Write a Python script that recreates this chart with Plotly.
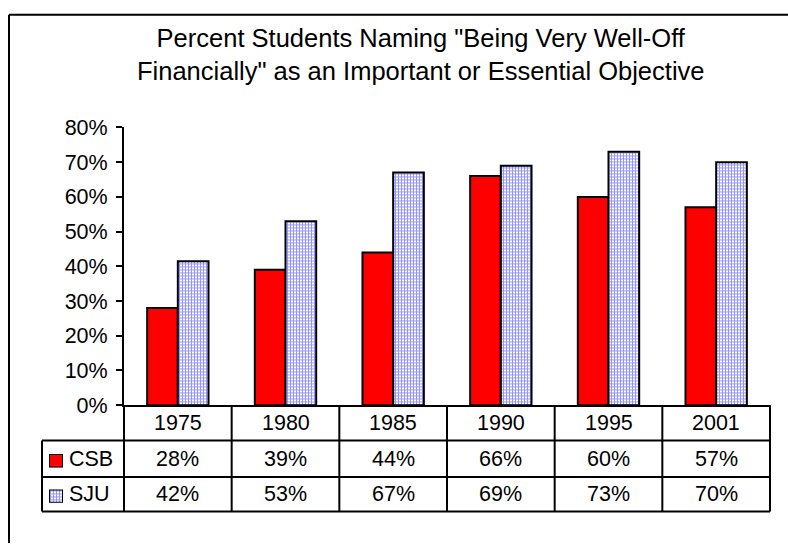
import plotly.graph_objects as go

# ---- data ----
years = ["1975", "1980", "1985", "1990", "1995", "2001"]
csb = [28, 39, 44, 66, 60, 57]
sju = [41.5, 53, 67, 69, 73, 70]
series_names = ["CSB", "SJU"]
y_tick_vals = [0, 10, 20, 30, 40, 50, 60, 70, 80]
title_text = 'Percent Students Naming "Being Very Well-Off<br>Financially" as an Important or Essential Objective'

# ---- geometry (pixels) ----
W, H = 788, 556
def px(x):
    return x / W
def py(y):
    return (H - y) / H

PLOT_X0, PLOT_X1 = 124, 770
PLOT_Y0, PLOT_Y1 = 412, 121.7
ROWS = [412, 449, 487, 523]
LEG_LEFT = 42
FONT = "Liberation Sans, Arial, sans-serif"
FS = 21.5

red_marker = dict(color="#ff0000", line=dict(color="black", width=2))
blue_marker = dict(
    color="white",
    pattern=dict(shape="+", fgcolor="#2828ff", bgcolor="white", size=3, solidity=0.55),
    line=dict(color="black", width=2),
)
markers = [red_marker, blue_marker]

fig = go.Figure()
for name, vals, mk in zip(series_names, [csb, sju], markers):
    fig.add_bar(x=years, y=vals, name=name, marker=mk, showlegend=False)

# legend keys as tiny subplots
key_rows = [(463, 477), (500, 514)]
for k, (name, mk) in enumerate(zip(series_names, markers)):
    ax = k + 2
    fig.add_bar(x=[0], y=[1], width=1, marker=mk, showlegend=False,
                xaxis=f"x{ax}", yaxis=f"y{ax}", cliponaxis=False, hoverinfo="skip")
    top, bot = key_rows[k]
    fig.update_layout(**{
        f"xaxis{ax}": dict(domain=[px(49), px(63)], range=[-0.5, 0.5], visible=False, anchor=f"y{ax}"),
        f"yaxis{ax}": dict(domain=[py(bot), py(top)], range=[0, 1], visible=False, anchor=f"x{ax}"),
    })

shapes = []
annotations = []
line = dict(color="black", width=2)

# outer frame (only top and left edges are inside the picture)
shapes.append(dict(type="line", xref="paper", yref="paper", x0=px(9), x1=1, y0=py(4), y1=py(4), line=line))
shapes.append(dict(type="line", xref="paper", yref="paper", x0=px(9), x1=px(9), y0=0, y1=py(4), line=line))

ncat = len(years)
colw = (PLOT_X1 - PLOT_X0) / ncat
# vertical lines of table
for i in range(ncat + 1):
    xx = PLOT_X0 + i * colw
    shapes.append(dict(type="line", xref="paper", yref="paper", x0=px(xx), x1=px(xx), y0=py(ROWS[0]), y1=py(ROWS[-1]), line=line))
shapes.append(dict(type="line", xref="paper", yref="paper", x0=px(LEG_LEFT), x1=px(LEG_LEFT), y0=py(ROWS[1]), y1=py(ROWS[-1]), line=line))
# horizontal lines
for r in ROWS[1:]:
    shapes.append(dict(type="line", xref="paper", yref="paper", x0=px(LEG_LEFT), x1=px(PLOT_X1), y0=py(r), y1=py(r), line=line))

# table text
def cell_text(t, cx, r):
    annotations.append(dict(text=t, x=px(cx), y=py((ROWS[r] + ROWS[r + 1]) / 2), xref="paper", yref="paper",
                            xanchor="center", yanchor="middle", showarrow=False,
                            font=dict(family=FONT, size=FS, color="black")))
for i, yr in enumerate(years):
    cx = PLOT_X0 + (i + 0.5) * colw
    cell_text(yr, cx, 0)
    cell_text(f"{int(csb[i] + 0.5)}%", cx, 1)
    cell_text(f"{int(sju[i] + 0.5)}%", cx, 2)
for k, name in enumerate(series_names):
    annotations.append(dict(text=name, x=px(67), y=py((ROWS[k + 1] + ROWS[k + 2]) / 2), xref="paper", yref="paper",
                            xanchor="left", yanchor="middle", showarrow=False,
                            font=dict(family=FONT, size=FS, color="black")))

# title
annotations.append(dict(text=title_text, x=px(420), y=py(45), xref="paper", yref="paper",
                        xanchor="center", yanchor="middle", showarrow=False,
                        font=dict(family=FONT, size=25.5, color="black")))

fig.update_layout(
    width=W, height=H,
    margin=dict(l=0, r=0, t=0, b=0),
    paper_bgcolor="white", plot_bgcolor="white",
    barmode="group", bargap=0.43, bargroupgap=0,
    xaxis=dict(domain=[px(PLOT_X0), px(PLOT_X1)], showticklabels=False, ticks="",
               showline=True, linecolor="black", linewidth=2, showgrid=False, anchor="y"),
    yaxis=dict(domain=[py(PLOT_Y0), py(PLOT_Y1)], range=[0, 80], tickvals=y_tick_vals,
               ticktext=[f"{v}%" for v in y_tick_vals], ticks="outside", ticklen=6, tickwidth=2,
               tickcolor="black", showline=True, linecolor="black", linewidth=2, showgrid=False,
               zeroline=False, ticklabelstandoff=4,
               tickfont=dict(family=FONT, size=FS, color="black"), anchor="x"),
    shapes=shapes,
    annotations=annotations,
    font=dict(family=FONT, color="black"),
)

fig.write_html("out.html")
